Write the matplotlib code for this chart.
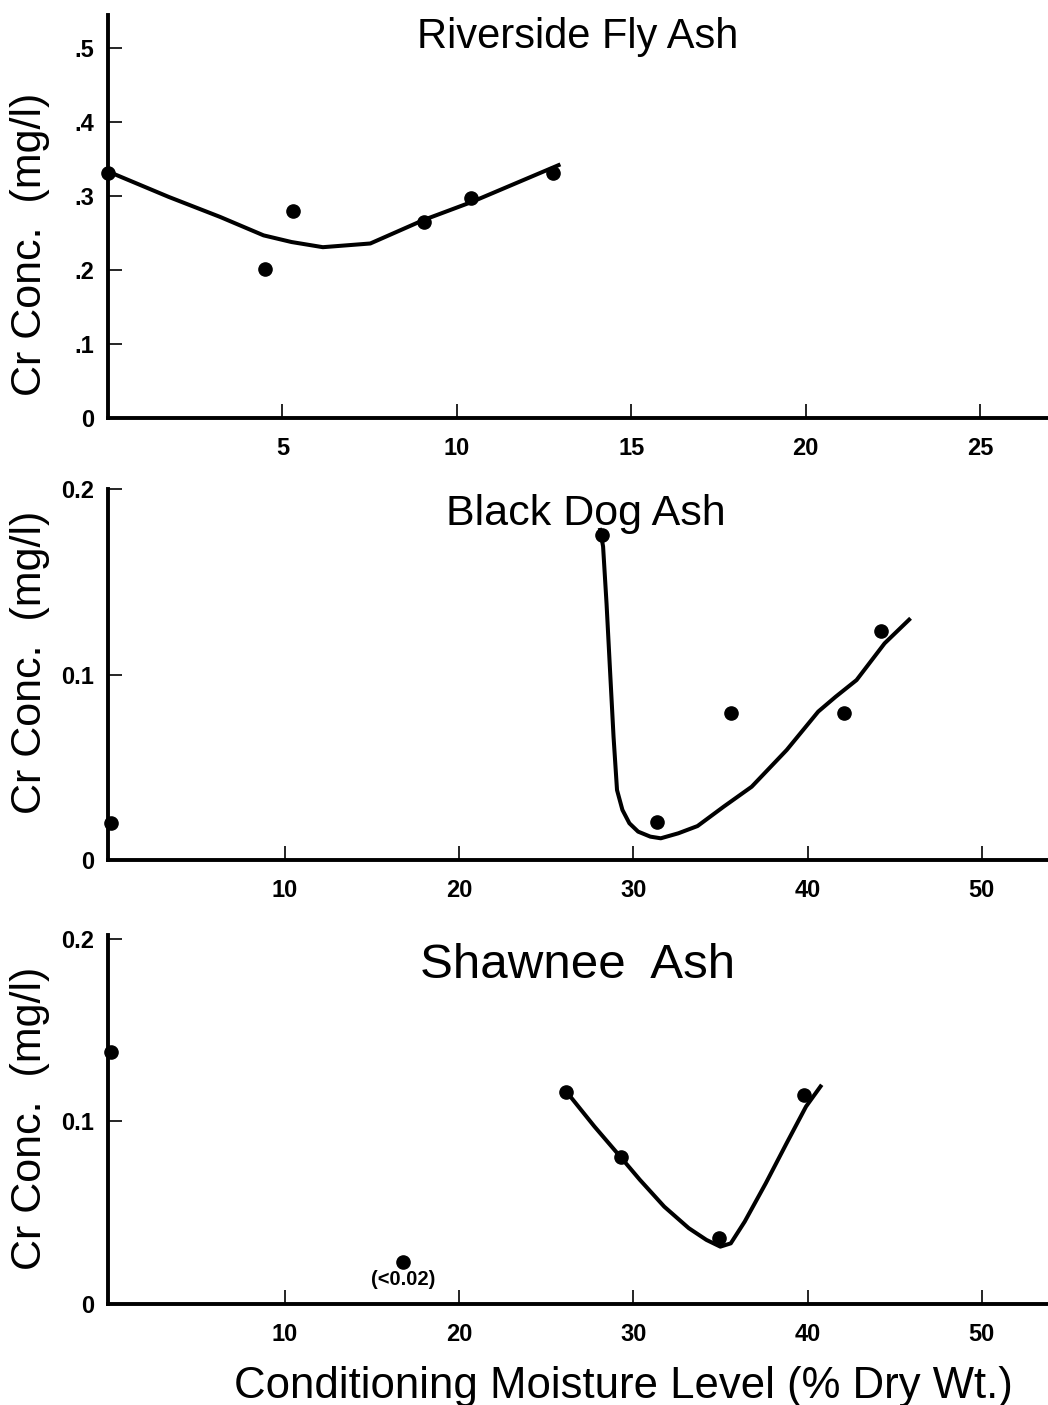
import numpy as np
import matplotlib
matplotlib.use("Agg")
import matplotlib.pyplot as plt

plt.rcParams['font.family'] = ['Liberation Sans', 'DejaVu Sans']

# Riverside fly ash
riv_x = [0.0, 4.49, 5.29, 9.06, 10.42, 12.77]
riv_y = [0.331, 0.202, 0.280, 0.265, 0.298, 0.331]
riv_fit_x = [0.02, 1.74, 3.21, 4.46, 5.26, 6.16, 7.52, 9.06, 10.42, 12.97]
riv_fit_y = [0.333, 0.299, 0.272, 0.247, 0.238, 0.231, 0.236, 0.268, 0.292, 0.343]

# Black Dog ash
bd_x = [0.0, 28.2, 31.37, 35.6, 42.1, 44.2]
bd_y = [0.020, 0.175, 0.0207, 0.079, 0.079, 0.1235]
bd_fit_x = [28.07, 28.26, 28.46, 28.66, 28.86, 29.06, 29.37, 29.77, 30.27, 30.97,
            31.57, 32.58, 33.68, 35.19, 36.79, 38.8, 40.61, 41.61, 42.81, 44.42, 45.91]
bd_fit_y = [0.179, 0.169, 0.138, 0.102, 0.0665, 0.0377, 0.027, 0.0198, 0.0153, 0.0126,
            0.0117, 0.0144, 0.0183, 0.0288, 0.0395, 0.0593, 0.080, 0.088, 0.097, 0.1168, 0.1303]

# Shawnee ash
sh_x = [0.0, 16.77, 26.15, 29.27, 34.89, 39.77]
sh_y = [0.138, 0.023, 0.1163, 0.0804, 0.036, 0.1145]
sh_fit_x = [26.15, 27.76, 29.27, 30.37, 31.77, 33.18, 34.19, 34.99, 35.59, 36.39,
            37.6, 38.8, 39.91, 40.81]
sh_fit_y = [0.1163, 0.0972, 0.0804, 0.068, 0.0533, 0.0415, 0.0351, 0.0314, 0.0332, 0.0451,
            0.0661, 0.0881, 0.1081, 0.12]
sh_note_x = 16.77
sh_note_y = 0.023
sh_note = "(<0.02)"

riv_yticks = [0.1, 0.2, 0.3, 0.4, 0.5]
riv_yticklabels = [".1", ".2", ".3", ".4", ".5"]
riv_xticks = [5, 10, 15, 20, 25]
ash_yticks = [0.1, 0.2]
ash_yticklabels = ["0.1", "0.2"]
ash_xticks = [10, 20, 30, 40, 50]

ylabel = "Cr Conc.  (mg/l)"
xlabel = "Conditioning Moisture Level (% Dry Wt.)"

W, H = 1048, 1405
fig = plt.figure(figsize=(W / 100, H / 100), dpi=100)


def px_rect(left, top, right, bottom):
    return [left / W, 1 - bottom / H, (right - left) / W, (bottom - top) / H]


def draw_panel(rect, xlim, ylim, xticks, yticks, yticklabels,
               pts_x, pts_y, fit_x, fit_y, ylabel_y):
    ax = fig.add_axes(rect)
    ax.plot(fit_x, fit_y, color='black', lw=2.9, solid_capstyle='butt', clip_on=False)
    ax.plot(pts_x, pts_y, 'o', color='black', ms=9.5, clip_on=False, zorder=5)
    ax.set_xlim(*xlim)
    ax.set_ylim(*ylim)
    for s in ['top', 'right']:
        ax.spines[s].set_visible(False)
    for s in ['left', 'bottom']:
        ax.spines[s].set_linewidth(2.8)
    ax.set_xticks(xticks)
    ax.set_xticklabels([str(t) for t in xticks])
    ax.set_yticks([0] + yticks)
    ax.set_yticklabels(["0"] + yticklabels)
    ax.tick_params(axis='x', direction='in', length=10, width=1.2, pad=14,
                   labelsize=17)
    ax.tick_params(axis='y', direction='in', length=10, width=1.2, pad=10,
                   labelsize=17)
    for lab in ax.get_xticklabels() + ax.get_yticklabels():
        lab.set_fontweight('bold')
    fig.text(30 / W, 1 - ylabel_y / H, ylabel, rotation=90, ha='center',
             va='center', fontsize=31)
    return ax


ax1 = draw_panel(px_rect(108, 15, W, 418), (0, 26.95), (0, 0.545),
                 riv_xticks, riv_yticks, riv_yticklabels,
                 riv_x, riv_y, riv_fit_x, riv_fit_y, 244)
fig.text(578 / W, 1 - 48 / H, "Riverside Fly Ash", ha='center', va='baseline',
         fontsize=30)

ax2 = draw_panel(px_rect(108, 489, W, 860), (-0.16, 53.8), (0, 0.2),
                 ash_xticks, ash_yticks, ash_yticklabels,
                 bd_x, bd_y, bd_fit_x, bd_fit_y, 662)
fig.text(586 / W, 1 - 525 / H, "Black Dog Ash", ha='center', va='baseline',
         fontsize=31)

ax3 = draw_panel(px_rect(108, 935, W, 1304), (-0.16, 53.8), (0, 0.202),
                 ash_xticks, ash_yticks, ash_yticklabels,
                 sh_x, sh_y, sh_fit_x, sh_fit_y, 1118)
fig.text(578 / W, 1 - 978 / H, "Shawnee  Ash", ha='center', va='baseline',
         fontsize=35.5)
ax3.annotate(sh_note, (sh_note_x, sh_note_y), xytext=(0, -6),
             textcoords='offset points', ha='center', va='top',
             fontsize=14.5, fontweight='bold')

fig.text(623 / W, 1 - 1398 / H, xlabel, ha='center', va='baseline', fontsize=31.5)

fig.savefig("out.png", dpi=100, facecolor='white')
